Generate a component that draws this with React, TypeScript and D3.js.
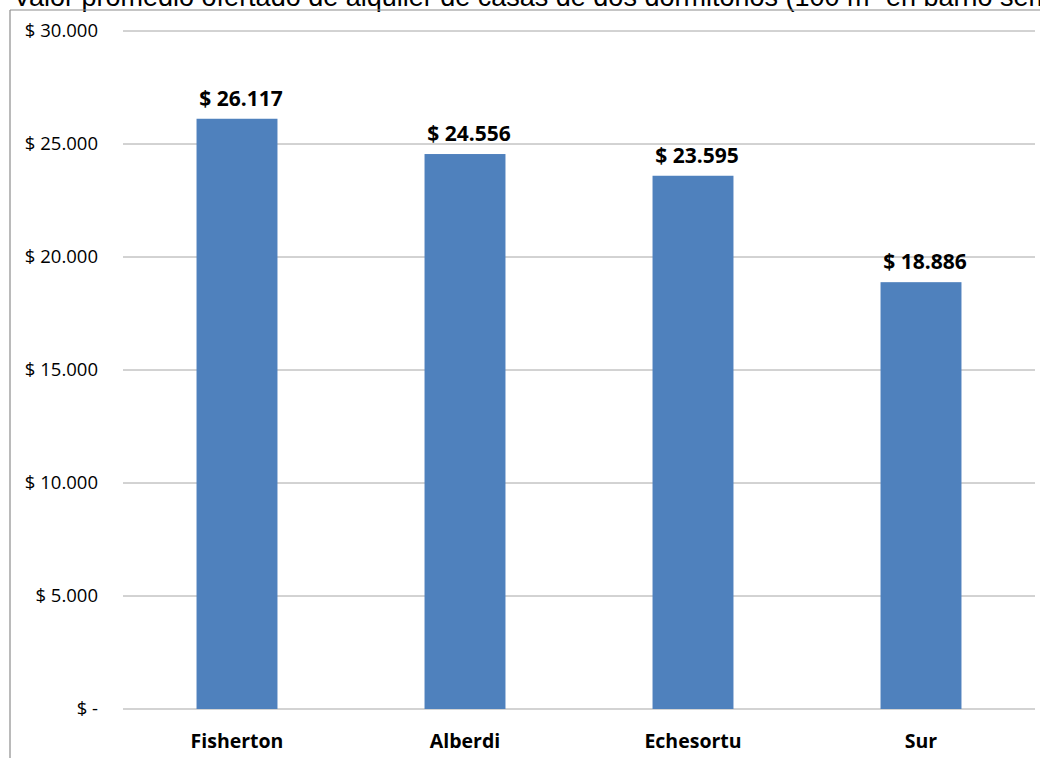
import React from 'react';
import * as d3 from 'd3';

const barrios = ['Fisherton', 'Alberdi', 'Echesortu', 'Sur'];
const valores = [26117, 24556, 23595, 18886];
const yTicks = [0, 5000, 10000, 15000, 20000, 25000, 30000];
const titulo = 'Valor promedio ofertado de  alquiler de casas de dos dormitorios (100 m² en barrio semicéntrico)';

const width = 1040;
const height = 758;
const margin = { top: 31, right: 5, bottom: 49, left: 123 };

// formato tipo Excel: "$ 26.117", cero como "$ -"
const fmtMoney = (v: number) =>
  v === 0 ? '$ -' : '$ ' + d3.format(',')(v).replace(/,/g, '.');

const App: React.FC = () => {
  const x = d3.scaleBand<string>()
    .domain(barrios)
    .range([margin.left, width - margin.right])
    .paddingInner(0.645)
    .paddingOuter(0.3225);

  const y = d3.scaleLinear()
    .domain([0, 30000])
    .range([height - margin.bottom, margin.top]);

  const uiFont = '"Open Sans", sans-serif';

  return (
    <div style={{ position: 'absolute', left: 0, top: 0, width, height, background: '#fff' }}>
      <svg width={width} height={height} style={{ display: 'block' }}>
        {/* título recortado arriba */}
        <text x={13} y={6} fontFamily='"Liberation Sans", Arial, sans-serif' fontSize={27} fill="#000">
          {titulo}
        </text>
        {/* marco del gráfico */}
        <line x1={10} x2={width} y1={10} y2={10} stroke="#8c8c8c" strokeWidth={1.2} />
        <line x1={10} x2={10} y1={10} y2={height} stroke="#8c8c8c" strokeWidth={1.2} />

        {/* grilla y etiquetas del eje Y */}
        {yTicks.map(t => (
          <g key={t}>
            <line
              x1={margin.left}
              x2={width - margin.right}
              y1={y(t)}
              y2={y(t)}
              stroke={t === 0 ? '#c4c4c4' : '#a6a6a6'}
              strokeWidth={t === 0 ? 1.5 : 1}
            />
            <text
              x={98}
              y={y(t) + 6}
              textAnchor="end"
              fontFamily={uiFont}
              fontSize={18.5}
              fill="#000"
            >
              {fmtMoney(t)}
            </text>
          </g>
        ))}

        {/* barras */}
        {valores.map((v, i) => (
          <rect
            key={barrios[i]}
            x={x(barrios[i])}
            y={y(v)}
            width={x.bandwidth()}
            height={y(0) - y(v)}
            fill="#4f81bd"
          />
        ))}

        {/* etiquetas de valor */}
        {valores.map((v, i) => (
          <text
            key={'l' + barrios[i]}
            x={(x(barrios[i]) || 0) + x.bandwidth() / 2 + 4}
            y={y(v) - 13}
            textAnchor="middle"
            fontFamily={uiFont}
            fontWeight="bold"
            fontSize={21}
            fill="#000"
          >
            {fmtMoney(v)}
          </text>
        ))}

        {/* categorías */}
        {barrios.map(b => (
          <text
            key={'c' + b}
            x={(x(b) || 0) + x.bandwidth() / 2}
            y={748}
            textAnchor="middle"
            fontFamily={uiFont}
            fontWeight="bold"
            fontSize={19.5}
            fill="#000"
          >
            {b}
          </text>
        ))}
      </svg>
    </div>
  );
};

export default App;
